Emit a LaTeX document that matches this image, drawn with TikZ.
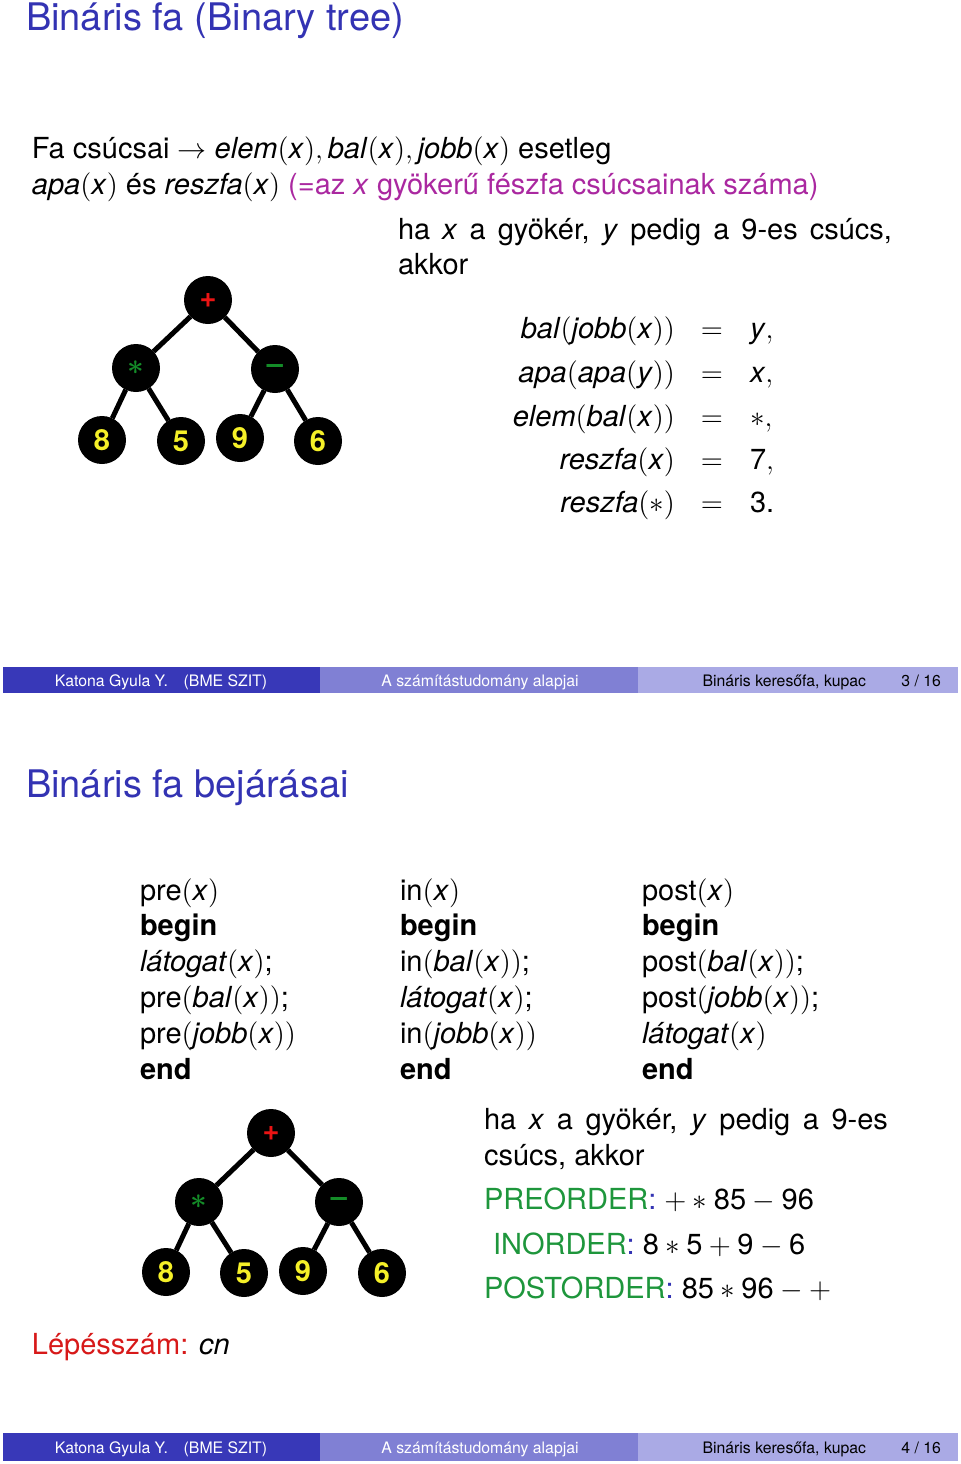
\documentclass[tikz,border=0pt]{standalone}
\usepackage{fix-cm}
\usepackage{amsmath}
\usepackage{fontspec}
\setmainfont{TeX Gyre Heros}
\usepackage{tikz}

\definecolor{structblue}{RGB}{51,51,179}
\definecolor{footdark}{RGB}{56,56,184}
\definecolor{footmid}{RGB}{128,128,212}
\definecolor{footlight}{RGB}{170,170,229}
\definecolor{alertpurple}{RGB}{170,40,160}
\definecolor{alertred}{RGB}{215,25,25}
\definecolor{ordergreen}{RGB}{30,150,60}
\definecolor{treeyellow}{RGB}{245,240,40}
\definecolor{opred}{RGB}{235,20,20}
\definecolor{opgreen}{RGB}{20,140,40}

\newcommand{\bopen}{$($}
\newcommand{\bclose}{$)$}

\begin{document}
\begin{tikzpicture}[
    x = 0.5pt, y = -0.5pt,
    every node/.style = {inner sep=0pt, outer sep=0pt},
    txt/.style = {anchor=base west, font=\fontsize{14.5}{18}\selectfont},
    heading/.style = {anchor=base west, text=structblue, font=\fontsize{19}{23}\selectfont},
    foot/.style = {anchor=base, font=\fontsize{7.9}{9.5}\selectfont},
    V/.style = {circle, fill=black, minimum size=24pt, inner sep=0pt,
                font=\fontsize{14.5}{18}\selectfont\bfseries},
    num/.style = {text=treeyellow}
    ]
    \useasboundingbox (0,0) rectangle (960,1464);

    % first slide
    \node[heading] (title1) at (26,30) {Bináris fa (Binary tree)};
    \node[txt] (line1) at (32,158) {Fa csúcsai $\rightarrow$ \textit{elem}\bopen\textit{x}\bclose$,\,$\textit{bal}\bopen\textit{x}\bclose$,\,$\textit{jobb}\bopen\textit{x}\bclose{} esetleg};
    \node[txt] (line2) at (32,194) {\textit{apa}\bopen\textit{x}\bclose{} és \textit{reszfa}\bopen\textit{x}\bclose{} \textcolor{alertpurple}{(=az \textit{x} gyökerű fészfa csúcsainak száma)}};
    \node[txt] (ha1) at (398,239) {\makebox[247pt][s]{ha \textit{x} a gyökér, \textit{y} pedig a 9-es csúcs,}};
    \node[txt] (akkor1) at (398,274) {akkor};

    \node[txt, anchor=base east] (lhs1) at (675,338) {\textit{bal}\bopen\textit{jobb}\bopen\textit{x}\bclose\bclose};
    \node[txt, anchor=base east] (lhs2) at (675,382) {\textit{apa}\bopen\textit{apa}\bopen\textit{y}\bclose\bclose};
    \node[txt, anchor=base east] (lhs3) at (675,426) {\textit{elem}\bopen\textit{bal}\bopen\textit{x}\bclose\bclose};
    \node[txt, anchor=base east] (lhs4) at (675,469) {\textit{reszfa}\bopen\textit{x}\bclose};
    \node[txt, anchor=base east] (lhs5) at (675,512) {\textit{reszfa}\bopen$*$\bclose};
    \foreach \yy [count=\i] in {338,382,426,469,512}
        \node[txt, anchor=base] (eq\i) at (712,\yy) {$=$};
    \node[txt] (rhs1) at (750,338) {\textit{y}$,$};
    \node[txt] (rhs2) at (750,382) {\textit{x}$,$};
    \node[txt] (rhs3) at (750,426) {$*,$};
    \node[txt] (rhs4) at (750,469) {7$,$};
    \node[txt] (rhs5) at (750,512) {3.};

    \begin{scope}[nodes=V]
        \node[text=opred] (plusA) at (208,300) {+};
        \node[text=opgreen] (starA) at (136,368) {$\boldsymbol{\ast}$};
        \node[text=opgreen] (minusA) at (275,369) {--};
        \node[num] (8A) at (102,440) {8};
        \node[num] (5A) at (181,441) {5};
        \node[num] (9A) at (240,438) {9};
        \node[num] (6A) at (318,441) {6};
    \end{scope}
    \begin{scope}[line width=2.5pt]
        \draw (plusA) -- (starA);
        \draw (plusA) -- (minusA);
        \draw (starA) -- (8A);
        \draw (starA) -- (5A);
        \draw (minusA) -- (9A);
        \draw (minusA) -- (6A);
    \end{scope}

    \fill[footdark] (3,667) rectangle (320,693);
    \fill[footmid] (320,667) rectangle (638,693);
    \fill[footlight] (638,667) rectangle (958,693);
    \node[foot, text=white] (authorA) at (161,686) {Katona Gyula Y.\quad(BME SZIT)};
    \node[foot, text=white] (courseA) at (480,686) {A számítástudomány alapjai};
    \node[foot, anchor=base east] (topicA) at (866,686) {Bináris keresőfa, kupac};
    \node[foot, anchor=base east] (pageA) at (941,686) {3 / 16};

    % second slide
    \node[heading] (title2) at (26,797) {Bináris fa bejárásai};
    \foreach \t [count=\i from 0] in {{pre\bopen\textit{x}\bclose},{\textbf{begin}},
        {\textit{látogat}\bopen\textit{x}\bclose;},{pre\bopen\textit{bal}\bopen\textit{x}\bclose\bclose;},
        {pre\bopen\textit{jobb}\bopen\textit{x}\bclose\bclose},{\textbf{end}}}
        \node[txt] (pre\i) at (140,{900+35.9*\i}) {\t};
    \foreach \t [count=\i from 0] in {{in\bopen\textit{x}\bclose},{\textbf{begin}},
        {in\bopen\textit{bal}\bopen\textit{x}\bclose\bclose;},{\textit{látogat}\bopen\textit{x}\bclose;},
        {in\bopen\textit{jobb}\bopen\textit{x}\bclose\bclose},{\textbf{end}}}
        \node[txt] (in\i) at (400,{900+35.9*\i}) {\t};
    \foreach \t [count=\i from 0] in {{post\bopen\textit{x}\bclose},{\textbf{begin}},
        {post\bopen\textit{bal}\bopen\textit{x}\bclose\bclose;},{post\bopen\textit{jobb}\bopen\textit{x}\bclose\bclose;},
        {\textit{látogat}\bopen\textit{x}\bclose},{\textbf{end}}}
        \node[txt] (post\i) at (642,{900+35.9*\i}) {\t};

    \begin{scope}[nodes=V]
        \node[text=opred] (plusB) at (271,1133) {+};
        \node[text=opgreen] (starB) at (199,1202) {$\boldsymbol{\ast}$};
        \node[text=opgreen] (minusB) at (339,1202) {--};
        \node[num] (8B) at (166,1272) {8};
        \node[num] (5B) at (244,1273) {5};
        \node[num] (9B) at (303,1271) {9};
        \node[num] (6B) at (382,1273) {6};
    \end{scope}
    \begin{scope}[line width=2.5pt]
        \draw (plusB) -- (starB);
        \draw (plusB) -- (minusB);
        \draw (starB) -- (8B);
        \draw (starB) -- (5B);
        \draw (minusB) -- (9B);
        \draw (minusB) -- (6B);
    \end{scope}

    \node[txt] (ha2) at (484,1129) {\makebox[202pt][s]{ha \textit{x} a gyökér, \textit{y} pedig a 9-es}};
    \node[txt] (akkor2) at (484,1165) {csúcs, akkor};
    \node[txt] (preorder) at (484,1209) {\textcolor{ordergreen}{PREORDER}\textcolor{structblue}{:} $+*\mbox{85}-\mbox{96}$};
    \node[txt] (inorder) at (493,1254) {\textcolor{ordergreen}{INORDER}\textcolor{structblue}{:} $\mbox{8}*\mbox{5}+\mbox{9}-\mbox{6}$};
    \node[txt] (postorder) at (484,1298) {\textcolor{ordergreen}{POSTORDER}\textcolor{structblue}{:} $\mbox{85}*\mbox{96}-+$};
    \node[txt] (steps) at (32,1354) {\textcolor{alertred}{Lépésszám:} \textit{cn}};

    \fill[footdark] (3,1433) rectangle (320,1461);
    \fill[footmid] (320,1433) rectangle (638,1461);
    \fill[footlight] (638,1433) rectangle (958,1461);
    \node[foot, text=white] (authorB) at (161,1453) {Katona Gyula Y.\quad(BME SZIT)};
    \node[foot, text=white] (courseB) at (480,1453) {A számítástudomány alapjai};
    \node[foot, anchor=base east] (topicB) at (866,1453) {Bináris keresőfa, kupac};
    \node[foot, anchor=base east] (pageB) at (941,1453) {4 / 16};
\end{tikzpicture}
\end{document}
